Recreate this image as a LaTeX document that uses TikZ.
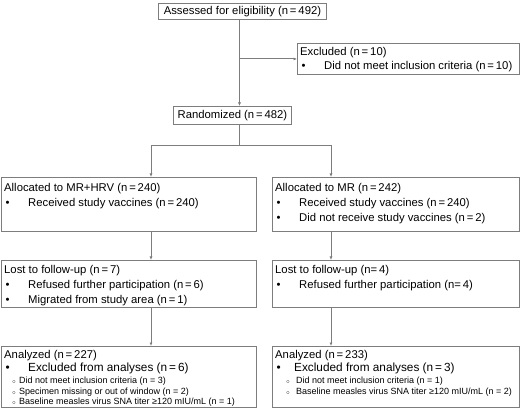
\documentclass[tikz,border=0pt]{standalone}
\usepackage{fontspec}
\setmainfont{Liberation Sans}
\usetikzlibrary{%
  arrows.meta,%
  positioning%
}
\definecolor{linegray}{RGB}{125,125,125}
\newcommand{\bul}{\makebox[24pt][l]{\hspace{1.5pt}\textbullet}}
\newcommand{\subfont}{\fontsize{9}{10.5}\selectfont}
\newcommand{\bigfont}{\fontsize{11.8}{13}\selectfont}
\newcommand{\subbul}[1]{\hspace*{#1}\makebox[7pt][l]{\raisebox{0.3pt}{\fontsize{6}{6}\selectfont$\circ$}}}

\begin{document}
\begin{tikzpicture}[
    x=1pt,y=-1pt,
    >={Latex[length=3.5pt,width=3pt]},
    box/.style={draw=linegray,line width=0.9pt,anchor=north west,inner sep=0pt,
        font=\fontsize{11.3}{15}\selectfont},
    boxtext/.style={anchor=north west,align=left,inner sep=0pt,
        font=\fontsize{11.3}{15}\selectfont},
    flow/.style={draw=linegray,line width=0.9pt,->},
    link/.style={draw=linegray,line width=0.9pt}
  ]
    \useasboundingbox (0,0) rectangle (520,409);

    % columns
    \coordinate (spine) at (239.5,0);
    \coordinate (colA)  at (151,0);
    \coordinate (colB)  at (331,0);
    \coordinate (split) at (239.5,145);

    % enrollment
    \node [box,minimum width=168pt,minimum height=16pt] (assess) at (158,3)
        {Assessed for eligibility (n\,=\,492)};
    \node [box,minimum width=222pt,minimum height=31pt] (excl) at (297,43) {};
    \node [boxtext] (excltext) at ([shift={(3pt,-4pt)}]excl.north west)
        {Excluded (n\,=\,10)\\[-1pt]
         \bul Did not meet inclusion criteria (n\,=\,10)};
    \node [box,minimum width=118pt,minimum height=18pt] (rand) at (173,106)
        {Randomized (n\,=\,482)};

    % allocation
    \node [box,minimum width=255pt,minimum height=54pt] (allocA) at (1,177) {};
    \node [boxtext] (allocAtext) at ([shift={(3pt,-6pt)}]allocA.north west)
        {Allocated to MR+HRV (n\,=\,240)\\
         \bul Received study vaccines (n\,=\,240)};
    \node [box,minimum width=247pt,minimum height=54pt] (allocB) at (272,177) {};
    \node [boxtext] (allocBtext) at ([shift={(3pt,-6pt)}]allocB.north west)
        {Allocated to MR (n\,=\,242)\\
         \bul Received study vaccines (n\,=\,240)\\
         \bul Did not receive study vaccines (n\,=\,2)};

    % follow-up
    \node [box,minimum width=255pt,minimum height=47pt] (lostA) at (1,260) {};
    \node [boxtext] (lostAtext) at ([shift={(3pt,-5pt)}]lostA.north west)
        {Lost to follow-up (n\,=\,7)\\
         \bul Refused further participation (n\,=\,6)\\
         \bul Migrated from study area (n\,=\,1)};
    \node [box,minimum width=247pt,minimum height=47pt] (lostB) at (272,260) {};
    \node [boxtext] (lostBtext) at ([shift={(3pt,-5pt)}]lostB.north west)
        {Lost to follow-up (n=\,4)\\
         \bul Refused further participation (n=\,4)};

    % analysis
    \node [box,minimum width=255pt,minimum height=61pt] (anaA) at (1,346) {};
    \node [boxtext] (anaAtext) at ([shift={(3pt,-4pt)}]anaA.north west)
        {Analyzed (n\,=\,227)\\[-2pt]
         \bigfont\bul Excluded from analyses (n\,=\,6)\\[-2.5pt]
         \subfont\subbul{8pt}Did not meet inclusion criteria (n = 3)\\[-4.5pt]
         \subfont\subbul{8pt}Specimen missing or out of window (n = 2)\\[-4.5pt]
         \subfont\subbul{8pt}Baseline measles virus SNA titer ≥120 mIU/mL (n = 1)};
    \node [box,minimum width=247pt,minimum height=61pt] (anaB) at (272,346) {};
    \node [boxtext] (anaBtext) at ([shift={(3pt,-4pt)}]anaB.north west)
        {Analyzed (n\,=\,233)\\[-2pt]
         \bigfont\makebox[19pt][l]{\hspace{1.5pt}\textbullet}Excluded from analyses (n\,=\,3)\\[-2.5pt]
         \subfont\subbul{11pt}\hspace{3pt}Did not meet inclusion criteria (n = 1)\\[-4.5pt]
         \subfont\subbul{11pt}\hspace{3pt}Baseline measles virus SNA titer ≥120 mIU/mL (n = 2)};

    % connectors
    \draw [flow] (assess.south -| spine) -- (rand.north -| spine);
    \draw [flow] (excl.west -| spine) -- (excl.west);
    \draw [link] (rand.south -| spine) -- (split);
    \draw [flow] (split) -| (allocA.north -| colA);
    \draw [flow] (split) -| (allocB.north -| colB);
    \draw [flow] (allocA.south -| colA) -- (lostA.north -| colA);
    \draw [flow] (allocB.south -| colB) -- (lostB.north -| colB);
    \draw [flow] (lostA.south -| colA) -- (anaA.north -| colA);
    \draw [flow] (lostB.south -| colB) -- (anaB.north -| colB);
\end{tikzpicture}
\end{document}
